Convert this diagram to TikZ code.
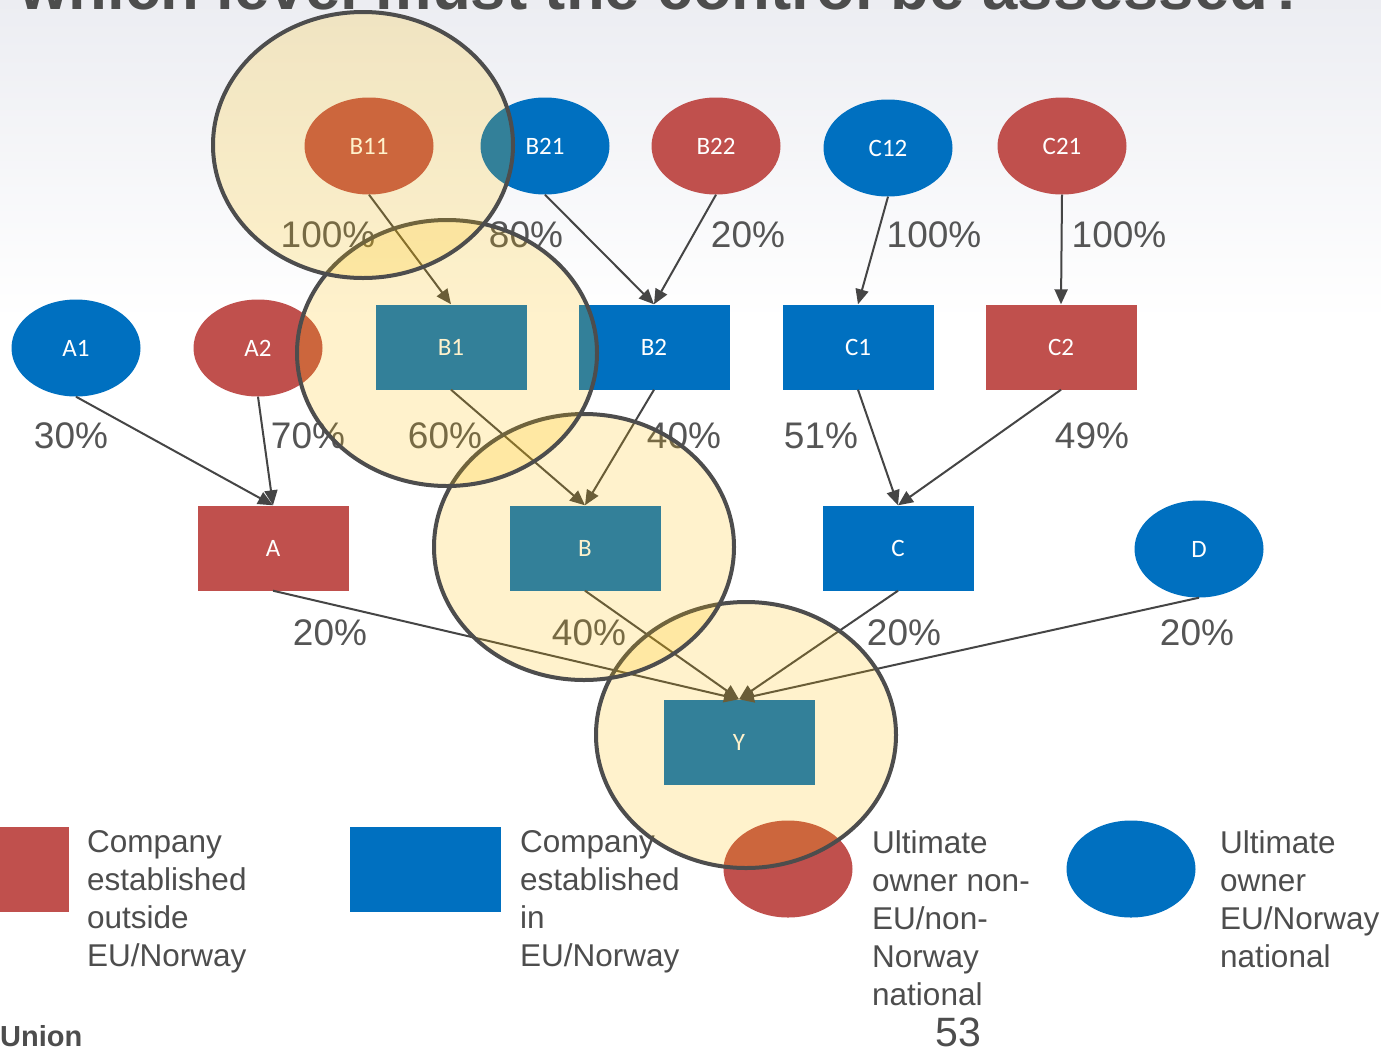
\documentclass[tikz,border=0pt]{standalone}
\usepackage{fontspec}
\setmainfont{Liberation Sans}
\newfontfamily\nodefont{Carlito}
\usetikzlibrary{shapes.geometric,arrows.meta}
\definecolor{cRed}{HTML}{C0504D}
\definecolor{cBlue}{HTML}{0070C0}
\definecolor{cLine}{HTML}{454545}
\definecolor{cPct}{HTML}{555555}
\definecolor{cText}{HTML}{4D4D4D}
\definecolor{cRing}{HTML}{4D4D4D}
\definecolor{cGold}{HTML}{FFC000}
\definecolor{bgTop}{HTML}{ECEDF2}
\begin{document}
\begin{tikzpicture}[x=1pt,y=-1pt,
  owner/.style={ellipse, minimum width=129pt, minimum height=97pt, inner sep=0pt,
    font=\nodefont\fontsize{25}{28}\selectfont, text=white},
  comp/.style={rectangle, minimum width=151pt, minimum height=85pt, inner sep=0pt,
    font=\nodefont\fontsize{25}{28}\selectfont, text=white},
  redfill/.style={fill=cRed},
  bluefill/.style={fill=cBlue},
  link/.style={draw=cLine, line width=2pt, -{Triangle[length=15pt,width=13pt]}},
  pct/.style={font=\fontsize{37}{40}\selectfont, text=cPct, inner sep=0pt},
  legtext/.style={anchor=north west, align=left, inner sep=0pt, text=cText,
    font=\fontsize{31.5}{38}\selectfont},
  ring/.style={draw=cRing, line width=4pt, fill=cGold, fill opacity=0.2}
]
\useasboundingbox (0,0) rectangle (1381,1050);
\clip (0,0) rectangle (1381,1050);
% background
\fill[white] (0,0) rectangle (1381,1050);
\shade[top color=bgTop, bottom color=white] (0,0) rectangle (1381,320);
% title (cut off at the top edge)
\node[anchor=base west, inner sep=0pt, text=cText, font=\bfseries\fontsize{63.5}{70}\selectfont] (title) at (19,9) {which level must the control be assessed?};

% owners top row
\node[owner, redfill] (B11) at (369,146) {B11};
\node[owner, bluefill] (B21) at (545,146) {B21};
\node[owner, redfill] (B22) at (716,146) {B22};
\node[owner, bluefill] (C12) at (888,148) {C12};
\node[owner, redfill] (C21) at (1062,146) {C21};
% second row
\node[owner, bluefill] (A1) at (76,348) {A1};
\node[owner, redfill] (A2) at (258,348) {A2};
\node[comp, bluefill] (B1) at (451,347) {B1};
\node[comp, bluefill] (B2) at (654,347) {B2};
\node[comp, bluefill] (C1) at (858,347) {C1};
\node[comp, redfill] (C2) at (1061,347) {C2};
% third row
\node[comp, redfill] (A) at (273,548) {A};
\node[comp, bluefill] (B) at (585,548) {B};
\node[comp, bluefill] (C) at (898,548) {C};
\node[owner, bluefill] (D) at (1199,549) {D};
% bottom
\node[comp, bluefill] (Y) at (739,742) {Y};

% connectors
\draw[link] (B11.south) -- (B1.north);
\draw[link] (B21.south) -- (B2.north);
\draw[link] (B22.south) -- (B2.north);
\draw[link] (C12.south) -- (C1.north);
\draw[link] (C21.south) -- (C2.north);
\draw[link] (A1.south) -- (A.north);
\draw[link] (A2.south) -- (A.north);
\draw[link] (B1.south) -- (B.north);
\draw[link] (B2.south) -- (B.north);
\draw[link] (C1.south) -- (C.north);
\draw[link] (C2.south) -- (C.north);
\draw[link] (A.south) -- (Y.north);
\draw[link] (B.south) -- (Y.north);
\draw[link] (C.south) -- (Y.north);
\draw[link] (D.south) -- (Y.north);

% percentages
\node[pct] (p1) at (328,235) {100\%};
\node[pct] (p2) at (526,235) {80\%};
\node[pct] (p3) at (748,235) {20\%};
\node[pct] (p4) at (934,235) {100\%};
\node[pct] (p5) at (1119,235) {100\%};
\node[pct] (p6) at (71,436) {30\%};
\node[pct] (p7) at (308,436) {70\%};
\node[pct] (p8) at (445,436) {60\%};
\node[pct] (p9) at (684,436) {40\%};
\node[pct] (p10) at (821,436) {51\%};
\node[pct] (p11) at (1092,436) {49\%};
\node[pct] (p12) at (330,633) {20\%};
\node[pct] (p13) at (589,633) {40\%};
\node[pct] (p14) at (904,633) {20\%};
\node[pct] (p15) at (1197,633) {20\%};

% legend
\node[comp, redfill] (LR) at (-7,869) {};
\node[legtext] (LRt) at (87,830) {Company\\established\\outside\\EU/Norway};
\node[comp, bluefill] (LB) at (425,869) {};
\node[legtext] (LBt) at (520,830) {Company\\established\\in\\EU/Norway};
\node[owner, redfill] (LRE) at (788,869) {};
\node[legtext] (LREt) at (872,830) {Ultimate\\owner non-\\EU/non-\\Norway\\national};
\node[owner, bluefill] (LBE) at (1131,869) {};
\node[legtext] (LBEt) at (1220,830) {Ultimate\\owner\\EU/Norway\\national};

% footer
\node[anchor=base west, inner sep=0pt, text=cText, font=\bfseries\fontsize{29}{32}\selectfont] (union) at (0,1046) {Union};
\node[anchor=base, inner sep=0pt, text=cText, font=\fontsize{41}{44}\selectfont] (pg) at (958,1046) {53};

% highlight rings
\draw[ring] (746,735) ellipse [x radius=150, y radius=133];
\draw[ring] (584,547) ellipse [x radius=150, y radius=133];
\draw[ring] (447,353) ellipse [x radius=150, y radius=133];
\draw[ring] (363,145) ellipse [x radius=150, y radius=133];
\end{tikzpicture}
\end{document}
